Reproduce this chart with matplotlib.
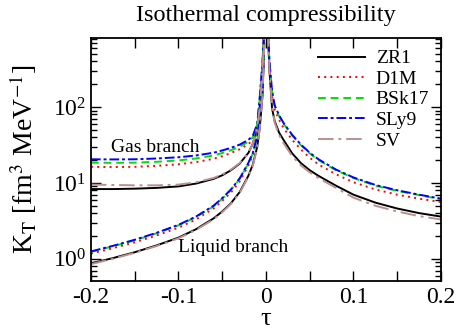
import matplotlib
matplotlib.use('Agg')
import matplotlib.pyplot as plt
from matplotlib.ticker import MultipleLocator, LogLocator, NullFormatter

plt.rcParams['font.family'] = ['Liberation Serif', 'DejaVu Serif']
plt.rcParams['mathtext.fontset'] = 'stix'
plt.rcParams['axes.unicode_minus'] = False

# reduced temperature grid, below and above the critical point
tau_neg = [-0.2, -0.175, -0.15, -0.125, -0.1, -0.08, -0.06, -0.05, -0.04,
           -0.03, -0.02, -0.015, -0.01, -0.007, -0.004, -0.002]
tau_pos = [0.002, 0.004, 0.007, 0.01, 0.015, 0.02, 0.03, 0.04, 0.05,
           0.06, 0.08, 0.1, 0.125, 0.15, 0.175, 0.2]

models = ['ZR1', 'D1M', 'BSk17', 'SLy9', 'SV']

# gas branch (tau < 0)
gas_zr1 = [8.3, 8.3, 8.4, 8.6, 9.0, 9.8, 11.3, 12.6, 14.7, 18.0, 25, 33, 55, 100, 300, 1000]
gas_d1m = [16.3, 16.2, 16.3, 16.8, 17.6, 18.8, 20.8, 22.5, 24.8, 27.8, 32.5, 37, 52, 120, 340, 1100]
gas_bsk17 = [18.5, 18.4, 18.5, 19.0, 19.8, 21.0, 23.0, 24.8, 27.0, 30.0, 35, 40, 57, 135, 370, 1200]
gas_sly9 = [20.5, 20.4, 20.5, 21.0, 21.8, 23.0, 25.0, 26.8, 29.0, 32.0, 37, 42, 60, 140, 380, 1200]
gas_sv = [9.5, 9.4, 9.3, 9.3, 9.5, 10.2, 11.6, 12.9, 15.0, 18.3, 25, 33, 55, 100, 300, 1000]

# liquid branch (tau < 0)
liq_zr1 = [0.87, 1.02, 1.22, 1.5, 1.9, 2.45, 3.4, 4.2, 5.4, 7.6, 12.5, 17.5, 30, 55, 140, 650]
liq_d1m = [1.17, 1.38, 1.65, 2.03, 2.57, 3.3, 4.6, 5.8, 7.5, 10.5, 17, 23, 39, 66, 160, 680]
liq_bsk17 = [1.23, 1.46, 1.75, 2.17, 2.76, 3.55, 4.9, 6.2, 8.1, 11.3, 18.2, 24.5, 41, 69, 165, 700]
liq_sly9 = [1.25, 1.48, 1.78, 2.2, 2.8, 3.6, 5.0, 6.3, 8.2, 11.5, 18.5, 25, 42, 70, 170, 700]
liq_sv = [0.85, 1.0, 1.2, 1.47, 1.86, 2.4, 3.3, 4.1, 5.3, 7.4, 12.2, 17, 29, 54, 140, 650]

# supercritical side (tau > 0)
pos_zr1 = [1000, 300, 95, 65, 46, 37, 24.5, 18.2, 14.7, 12.4, 9.2, 7.0, 5.5, 4.6, 4.0, 3.6]
pos_d1m = [1100, 360, 140, 92, 68, 53, 37, 27.5, 21.5, 17.5, 13.0, 10.2, 8.2, 7.0, 6.2, 5.6]
pos_bsk17 = [1200, 390, 155, 102, 76, 60.5, 42, 31.3, 24.5, 20.0, 14.7, 11.6, 9.2, 7.85, 6.9, 6.1]
pos_sly9 = [1200, 400, 160, 105, 78, 62, 43, 32, 25, 20.5, 15.0, 11.8, 9.4, 8.0, 7.0, 6.2]
pos_sv = [1000, 300, 100, 62, 43, 33.5, 22.5, 17.0, 13.8, 11.6, 8.6, 6.4, 5.0, 4.2, 3.65, 3.3]

gas = [gas_zr1, gas_d1m, gas_bsk17, gas_sly9, gas_sv]
liq = [liq_zr1, liq_d1m, liq_bsk17, liq_sly9, liq_sv]
pos = [pos_zr1, pos_d1m, pos_bsk17, pos_sly9, pos_sv]

colors = ['black', 'red', '#00e000', 'blue', '#bc8f8f']
styles = ['-', (0, (1, 2.2)), (0, (4, 2.5)), (0, (5, 1.5, 1.5, 1.5)), (0, (8, 2.5, 1.5, 2.5))]

fig = plt.figure(figsize=(4.57, 3.29), dpi=100)
ax = fig.add_axes([0.199, 0.146, 0.766, 0.738])

for i in range(len(models)):
    kw = dict(color=colors[i], linestyle=styles[i], linewidth=1.4)
    ax.plot(tau_neg, gas[i], label=models[i], **kw)
    ax.plot(tau_neg, liq[i], **kw)
    ax.plot(tau_pos, pos[i], **kw)

ax.set_yscale('log')
ax.set_xlim(-0.2, 0.2)
ax.set_ylim(0.51, 810)

ax.xaxis.set_minor_locator(MultipleLocator(0.05))
ax.set_xticks([-0.2, -0.1, 0, 0.1, 0.2])
ax.set_xticklabels(['-0.2', '-0.1', '0', '0.1', '0.2'])
ax.yaxis.set_major_locator(LogLocator(base=10, numticks=10))
ax.yaxis.set_minor_locator(LogLocator(base=10, subs=range(2, 10), numticks=20))
ax.yaxis.set_minor_formatter(NullFormatter())

ax.tick_params(which='both', direction='in', top=True, right=True, labelsize=17, width=1)
ax.tick_params(axis='x', which='both', length=7)
ax.tick_params(axis='y', which='major', length=7)
ax.tick_params(axis='y', which='minor', length=4)
ax.tick_params(axis='x', pad=4)
for s in ax.spines.values():
    s.set_linewidth(1.3)

ax.set_title('Isothermal compressibility', fontsize=17.5, pad=12)
ax.set_xlabel('τ', fontsize=19, labelpad=0)
ax.set_ylabel(r'K$_\mathrm{T}$ [fm$^3$ MeV$^{-1}$]', fontsize=20, labelpad=10)

ax.text(-0.126, 29, 'Gas branch', fontsize=14, ha='center', va='center')
ax.text(-0.038, 1.40, 'Liquid branch', fontsize=14, ha='center', va='center')

ax.legend(loc='upper right', frameon=False, fontsize=14, handlelength=2.4,
          handletextpad=0.55, labelspacing=0.15, borderaxespad=0.2)

fig.savefig('out.png', dpi=100)
